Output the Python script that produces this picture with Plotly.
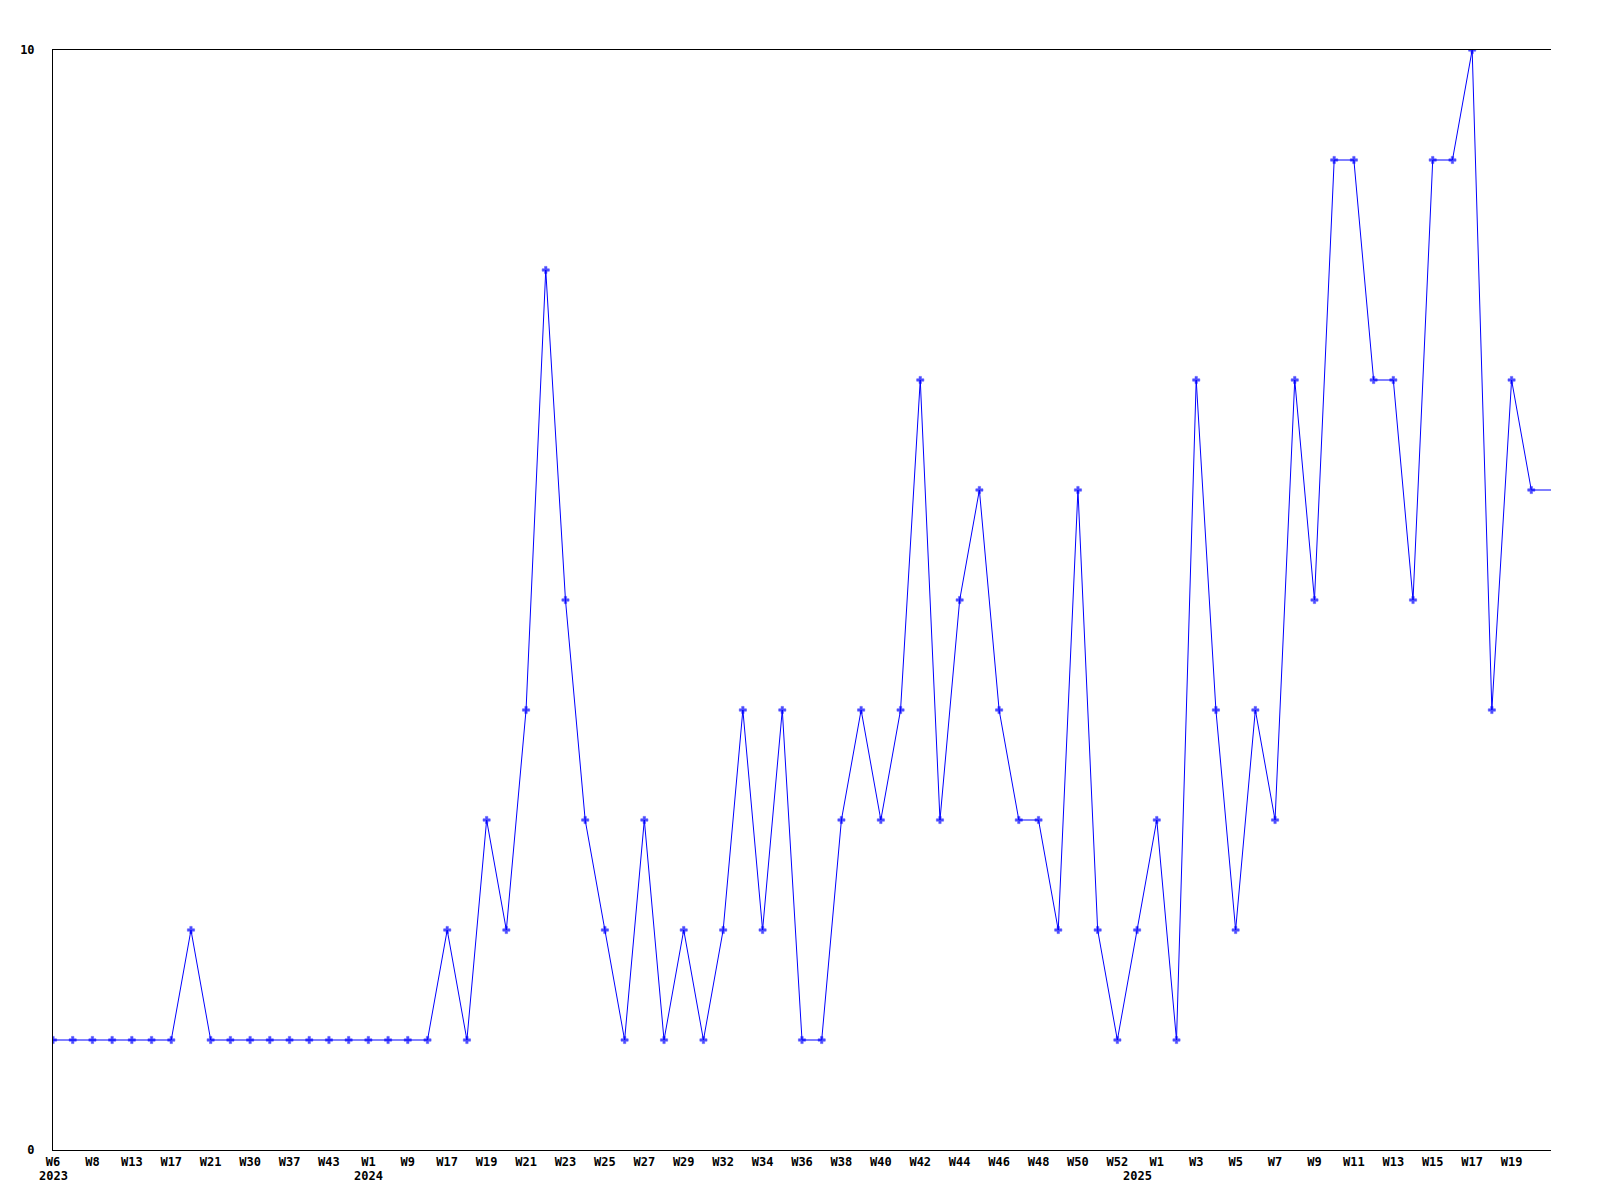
import plotly.graph_objects as go

# Week categories (unique keys), one per data point
weeks = [
    "2023-W06", "2023-W07", "2023-W08", "2023-W10", "2023-W13", "2023-W15", "2023-W17", "2023-W19",
    "2023-W21", "2023-W26", "2023-W30", "2023-W34", "2023-W37", "2023-W40", "2023-W43", "2023-W48",
    "2024-W01", "2024-W05", "2024-W09", "2024-W13", "2024-W17", "2024-W18", "2024-W19", "2024-W20",
    "2024-W21", "2024-W22", "2024-W23", "2024-W24", "2024-W25", "2024-W26", "2024-W27", "2024-W28",
    "2024-W29", "2024-W31", "2024-W32", "2024-W33", "2024-W34", "2024-W35", "2024-W36", "2024-W37",
    "2024-W38", "2024-W39", "2024-W40", "2024-W41", "2024-W42", "2024-W43", "2024-W44", "2024-W45",
    "2024-W46", "2024-W47", "2024-W48", "2024-W49", "2024-W50", "2024-W51", "2024-W52", "2024-W53",
    "2025-W01", "2025-W02", "2025-W03", "2025-W04", "2025-W05", "2025-W06", "2025-W07", "2025-W08",
    "2025-W09", "2025-W10", "2025-W11", "2025-W12", "2025-W13", "2025-W14", "2025-W15", "2025-W16",
    "2025-W17", "2025-W18", "2025-W19", "2025-W20", "2025-W21",
]

values = [
    1, 1, 1, 1, 1, 1, 1, 2,
    1, 1, 1, 1, 1, 1, 1, 1,
    1, 1, 1, 1, 2, 1, 3, 2,
    4, 8, 5, 3, 2, 1, 3, 1,
    2, 1, 2, 4, 2, 4, 1, 1,
    3, 4, 3, 4, 7, 3, 5, 6,
    4, 3, 3, 2, 6, 2, 1, 2,
    3, 1, 7, 4, 2, 4, 3, 7,
    5, 9, 9, 7, 7, 5, 9, 9,
    10, 4, 7, 6, 6,
]

# Labelled ticks (every other category)
tick_weeks = weeks[::2]
tick_labels = [
    "W6", "W8", "W13", "W17", "W21", "W30", "W37", "W43",
    "W1", "W9", "W17", "W19", "W21", "W23", "W25", "W27",
    "W29", "W32", "W34", "W36", "W38", "W40", "W42", "W44",
    "W46", "W48", "W50", "W52", "W1", "W3", "W5", "W7",
    "W9", "W11", "W13", "W15", "W17", "W19", "",
]

year_labels = ["2023", "2024", "2025"]
year_positions = ["2023-W06", "2024-W01", "2024-W53"]

y_ticks = [0, 10]

marker_sizes = [6] * (len(values) - 1) + [0]

FONT = dict(family="DejaVu Sans Mono", size=12, color="black", weight="bold")

fig = go.Figure()
fig.add_trace(go.Scatter(
    x=weeks, y=values, mode="lines+markers",
    line=dict(color="#0000FF", width=1),
    marker=dict(symbol="cross", size=marker_sizes, color="#0000FF",
                line=dict(color="#0000FF", width=0.5)),
    showlegend=False, hoverinfo="x+y",
))

for yl, pos in zip(year_labels, year_positions):
    fig.add_annotation(
        x=pos, y=0, xref="x", yref="paper", text=yl, showarrow=False,
        yanchor="top", yshift=-17, font=FONT,
    )

# page body adds an 8px offset, margins compensate
fig.update_layout(
    width=1600, height=1200,
    margin=dict(l=42, r=57, t=42, b=58),
    paper_bgcolor="white", plot_bgcolor="white",
    font=FONT,
)
fig.update_xaxes(
    type="category", categoryorder="array", categoryarray=weeks,
    range=[0, len(weeks) - 1],
    tickmode="array", tickvals=tick_weeks, ticktext=tick_labels,
    tickangle=0, ticks="", showgrid=False, zeroline=False,
    showline=True, linecolor="black", linewidth=1, mirror=True,
    tickfont=FONT, ticklabelstandoff=1,
)
fig.update_yaxes(
    range=[0, 10], tickmode="array", tickvals=y_ticks,
    ticks="", showgrid=False,
    zeroline=False, showline=True, linecolor="black", linewidth=1,
    tickfont=FONT, ticklabelstandoff=15,
)

fig.write_html("out.html")
